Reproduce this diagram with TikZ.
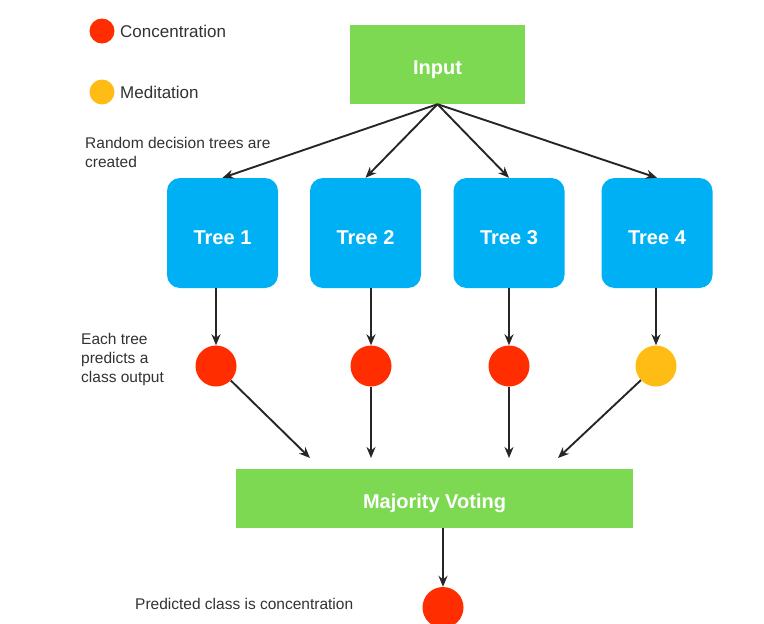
\documentclass[tikz,border=0pt]{standalone}
\usepackage{fontspec}
\setmainfont{Liberation Sans}
\usetikzlibrary{arrows.meta}

\definecolor{boxgreen}{RGB}{126,217,82}
\definecolor{treeblue}{RGB}{0,176,244}
\definecolor{classred}{RGB}{255,45,0}
\definecolor{classyellow}{RGB}{255,188,20}
\definecolor{labelgray}{RGB}{50,50,50}

\begin{document}
\begin{tikzpicture}[x=1pt, y=-1pt,
  greenbox/.style={fill=boxgreen, text=white, inner sep=0pt, text height=20pt, text depth=0pt,
    font=\fontsize{20}{24}\selectfont\bfseries},
  treebox/.style={fill=treeblue, rounded corners=13pt, text=white, inner sep=0pt,
    text height=22pt, text depth=0pt,
    minimum width=111pt, minimum height=110pt, font=\fontsize{20}{24}\selectfont\bfseries},
  dot/.style={circle, inner sep=0pt, minimum size=41pt},
  legenddot/.style={circle, inner sep=0pt, minimum size=25pt},
  note/.style={text=labelgray, anchor=west, align=left, inner sep=0pt,
    font=\fontsize{15.5}{19}\selectfont},
  flow/.style={-{Stealth[length=11pt, width=9pt]}, line width=1.9pt, black!85}]

  % frame of the picture
  \useasboundingbox (0,0) rectangle (764,624);

  % Legend
  \node[legenddot, fill=classred] (keyred) at (102,31) {};
  \node[note, font=\fontsize{17}{20}\selectfont] (keyredtxt) at (120,31) {Concentration};
  \node[legenddot, fill=classyellow] (keyyellow) at (102,92) {};
  \node[note, font=\fontsize{17}{20}\selectfont] (keyyellowtxt) at (120,92) {Meditation};

  % Input and the trees
  \node[greenbox, minimum width=175pt, minimum height=79pt] (input) at (437.5,64.5) {Input};

  \node[treebox] (tree1) at (222.5,233) {Tree 1};
  \node[treebox] (tree2) at (365.5,233) {Tree 2};
  \node[treebox] (tree3) at (509,233) {Tree 3};
  \node[treebox] (tree4) at (657,233) {Tree 4};

  \node[note] (treesnote) at (85,152.5) {Random decision trees are\\created};

  \foreach \t in {1,...,4}
    \draw[flow] (input.south) -- (tree\t.north);

  % Class output of each tree
  \node[dot, fill=classred] (class1) at (216,366) {};
  \node[dot, fill=classred] (class2) at (371,366) {};
  \node[dot, fill=classred] (class3) at (509,366) {};
  \node[dot, fill=classyellow] (class4) at (656,366) {};

  \node[note] (classnote) at (81,359) {Each tree\\predicts a\\class output};

  \foreach \t in {1,...,4}
    \draw[flow] (class\t |- tree\t.south) -- (class\t);

  % Majority voting
  \node[greenbox, minimum width=397pt, minimum height=59pt] (vote) at (434.5,498.5) {Majority Voting};

  \coordinate (vote1) at (310,458);
  \coordinate (vote2) at (371,458);
  \coordinate (vote3) at (509,458);
  \coordinate (vote4) at (558,458);

  \foreach \t in {1,...,4}
    \draw[flow] (class\t) -- (vote\t);

  % Final prediction
  \node[dot, fill=classred] (final) at (443,607.5) {};
  \node[note] (finalnote) at (135,604) {Predicted class is concentration};

  \draw[flow] (vote.south -| final) -- (final);

\end{tikzpicture}
\end{document}
